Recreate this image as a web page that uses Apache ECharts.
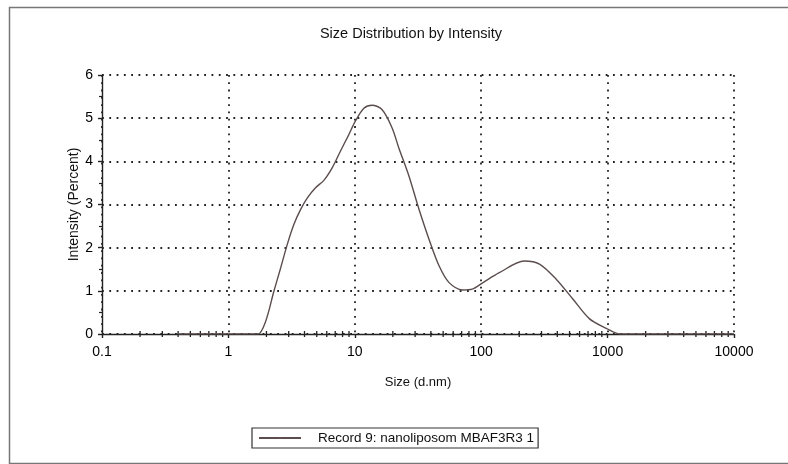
<!DOCTYPE html>
<html>
<head>
<meta charset="utf-8">
<script src="https://cdn.jsdelivr.net/npm/echarts@6/dist/echarts.min.js"></script>
<style>
  html, body { margin: 0; padding: 0; background: #fff; }
  #main { width: 788px; height: 464px; }
</style>
</head>
<body>
<div id="main"></div>
<script>
// size (d.nm)
var sizes = [0.4, 0.5, 0.6, 0.8, 1, 1.2, 1.5, 1.72, 1.97, 2.29, 2.59, 2.92, 3.3, 3.72, 4.2, 4.89, 5.69, 6.62, 7.71, 8.97, 10.1, 11.8, 13.7, 16.4, 19.7, 22.3, 26.8, 32.2, 38.7, 46.4, 55.7, 71, 85, 102, 139, 219, 289, 392, 531, 720, 977, 1245, 1500, 2000, 3000, 5000, 7000, 10000];
// intensity (percent)
var intensity = [0, 0, 0, 0, 0, 0, 0, 0, 0.29, 0.99, 1.53, 2.07, 2.54, 2.88, 3.15, 3.39, 3.56, 3.85, 4.24, 4.62, 4.93, 5.23, 5.3, 5.2, 4.78, 4.31, 3.66, 2.89, 2.19, 1.58, 1.19, 1.02, 1.04, 1.18, 1.42, 1.69, 1.62, 1.27, 0.81, 0.35, 0.13, 0, 0, 0, 0, 0, 0, 0];

var decades = [0.1, 1, 10, 100, 1000];
var minorSteps = [2, 3, 4, 5, 6, 7, 8, 9];

var seriesName = 'Record 9: nanoliposom MBAF3R3 1';
var fontName = '"Liberation Sans", Arial, sans-serif';

var points = [];
for (var i = 0; i < sizes.length; i++) {
    points.push([sizes[i], intensity[i]]);
}

// minor tick positions on the log axis (2..9 of each decade)
var minorTicks = [];
for (var d = 0; d < decades.length; d++) {
    for (var m = 0; m < minorSteps.length; m++) {
        minorTicks.push([+(decades[d] * minorSteps[m]).toPrecision(6), 0]);
    }
}

var dom = document.getElementById('main');
var myChart = echarts.init(dom);

var dotted = { color: '#222', width: 1.8, type: [1.8, 5.5] };

var option = {
    backgroundColor: '#fff',
    animation: false,
    title: {
        text: 'Size Distribution by Intensity',
        left: 406,
        top: 21,
        textAlign: 'center',
        textStyle: { fontFamily: fontName, fontSize: 14.5, fontWeight: 'normal', color: '#111' }
    },
    legend: {
        left: 252,
        top: 428,
        data: [seriesName],
        itemWidth: 42,
        itemHeight: 2,
        padding: [3, 4, 3, 6],
        borderColor: '#333',
        borderWidth: 1.2,
        borderRadius: 0,
        textStyle: { fontFamily: fontName, fontSize: 13.5, color: '#111', padding: [0, 0, 0, 12] }
    },
    graphic: [{
        type: 'rect',
        left: 7,
        top: 5,
        shape: { width: 800, height: 456 },
        style: { fill: 'none', stroke: '#777', lineWidth: 1.5 },
        silent: true
    }],
    grid: { left: 102, right: 54, top: 75, bottom: 130, containLabel: false },
    xAxis: {
        type: 'log',
        logBase: 10,
        min: 0.1,
        max: 10000,
        name: 'Size (d.nm)',
        nameLocation: 'middle',
        nameGap: 42,
        nameTextStyle: { fontFamily: fontName, fontSize: 13, color: '#111' },
        axisLine: { lineStyle: { color: '#222', width: 1.4 } },
        axisTick: { show: true, length: 4, lineStyle: { color: '#222', width: 1.4 } },
        axisLabel: {
            margin: 11,
            fontFamily: fontName,
            fontSize: 14,
            color: '#000',
            formatter: function (v) { return String(+v.toPrecision(6)); }
        },
        splitLine: { show: true, lineStyle: dotted }
    },
    yAxis: {
        type: 'value',
        min: 0,
        max: 6,
        interval: 1,
        name: 'Intensity (Percent)',
        nameLocation: 'middle',
        nameGap: 21,
        nameMoveOverlap: false,
        nameTextStyle: { fontFamily: fontName, fontSize: 14, color: '#111' },
        axisLine: { show: true, lineStyle: { color: '#222', width: 1.4 } },
        axisTick: { show: true, length: 4, lineStyle: { color: '#222', width: 1.4 } },
        minorTick: { show: true, splitNumber: 2, length: 3, lineStyle: { color: '#222', width: 1.2 } },
        axisLabel: { margin: 9, fontFamily: fontName, fontSize: 14, color: '#000' },
        splitLine: { show: true, lineStyle: dotted }
    },
    series: [
        {
            name: seriesName,
            type: 'line',
            data: points,
            smooth: 0.3,
            symbol: 'none',
            z: 5,
            lineStyle: { color: '#5b4d4d', width: 1.4 },
            itemStyle: { color: '#7a5a5a' }
        },
        {
            type: 'custom',
            silent: true,
            data: minorTicks,
            z: 4,
            renderItem: function (params, api) {
                var p = api.coord([api.value(0), api.value(1)]);
                return {
                    type: 'line',
                    shape: { x1: p[0], y1: p[1] - 3, x2: p[0], y2: p[1] + 3 },
                    style: { stroke: '#222', lineWidth: 1.3 }
                };
            }
        }
    ]
};

if (option && typeof option === "object") {
    myChart.setOption(option, true);
}
</script>
</body>
</html>
